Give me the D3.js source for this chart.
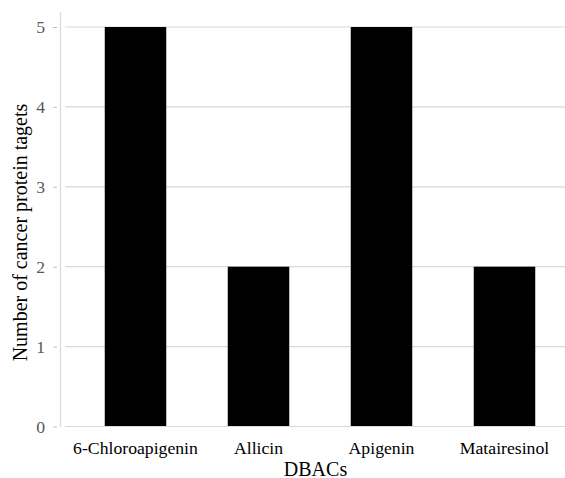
<!DOCTYPE html>
<html><head><meta charset="utf-8">
<script src="https://cdn.jsdelivr.net/npm/d3@7"></script>
<style>body{margin:0;background:#fff}svg{display:block}</style>
</head><body>
<svg id="c" width="565" height="478"></svg>
<script>
const categories = ["6-Chloroapigenin", "Allicin", "Apigenin", "Matairesinol"];
const values = [5, 2, 5, 2];
const yTicks = [0, 1, 2, 3, 4, 5];
const xTitle = "DBACs";
const yTitle = "Number of cancer protein tagets";

const svg = d3.select("#c");
const font = "'Liberation Serif','Times New Roman',serif";
const x = d3.scaleBand().domain(categories).range([74, 566]).paddingInner(0.5).paddingOuter(0.25);
const y = d3.scaleLinear().domain([0, 5]).range([426.5, 27]);

// gridlines
svg.append("g").selectAll("line").data(yTicks.filter(d => d > 0)).join("line")
  .attr("x1", 65).attr("x2", 565)
  .attr("y1", d => y(d)).attr("y2", d => y(d))
  .attr("stroke", "#d9d9d9").attr("stroke-width", 1.2);

// y axis
const yAxis = d3.axisLeft(y).tickValues(yTicks).tickSize(4).tickPadding(8).tickFormat(d3.format("d"));
const ya = svg.append("g").attr("transform", "translate(57,0)").call(yAxis);
ya.select(".domain").remove();
ya.selectAll(".tick line").attr("stroke", "#bfbfbf");
ya.selectAll(".tick text").attr("fill", "#595959").attr("font-family", font).attr("font-size", 17.7);
svg.append("line").attr("x1", 60.5).attr("x2", 60.5).attr("y1", 12).attr("y2", 427)
  .attr("stroke", "#d9d9d9").attr("stroke-width", 1.2);

// bars
svg.append("g").selectAll("rect").data(values).join("rect")
  .attr("x", (d, i) => x(categories[i]))
  .attr("width", x.bandwidth())
  .attr("y", d => y(d))
  .attr("height", d => y(0) - y(d))
  .attr("fill", "#000");

// x baseline
svg.append("line").attr("x1", 65).attr("x2", 565).attr("y1", y(0)).attr("y2", y(0))
  .attr("stroke", "#d9d9d9").attr("stroke-width", 1.2);

// x axis labels
const xAxis = d3.axisBottom(x).tickSize(0).tickPadding(15);
const xa = svg.append("g").attr("transform", `translate(0,${y(0)})`).call(xAxis);
xa.select(".domain").remove();
xa.selectAll(".tick text").attr("fill", "#000").attr("font-family", font).attr("font-size", 17.7);

// titles
svg.append("text").attr("x", 315.5).attr("y", 475.5).attr("text-anchor", "middle")
  .attr("font-family", font).attr("font-size", 20).attr("fill", "#000").text(xTitle);
svg.append("text").attr("transform", "translate(27,232.5) rotate(-90)").attr("text-anchor", "middle")
  .attr("font-family", font).attr("font-size", 20).attr("fill", "#000").text(yTitle);
</script>
</body></html>
